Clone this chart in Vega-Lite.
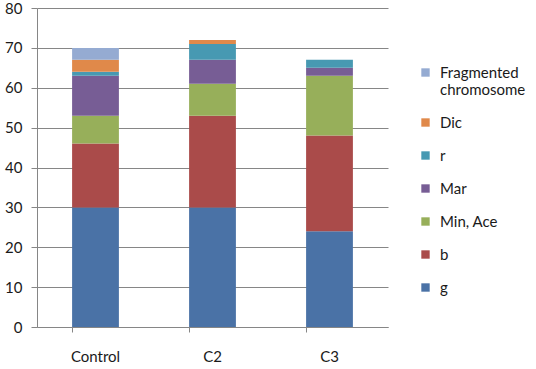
{
  "$schema": "https://vega.github.io/schema/vega-lite/v6.json",
  "width": 351,
  "height": 319,
  "autosize": "none",
  "padding": {"left": 37, "top": 8, "right": 148, "bottom": 42},
  "background": "white",
  "data": {"values": [
    {"group": "Control", "type": "g", "idx": 1, "value": 30},
    {"group": "Control", "type": "b", "idx": 2, "value": 16},
    {"group": "Control", "type": "Min, Ace", "idx": 3, "value": 7},
    {"group": "Control", "type": "Mar", "idx": 4, "value": 10},
    {"group": "Control", "type": "r", "idx": 5, "value": 1},
    {"group": "Control", "type": "Dic", "idx": 6, "value": 3},
    {"group": "Control", "type": "Fragmented chromosome", "idx": 7, "value": 3},
    {"group": "C2", "type": "g", "idx": 1, "value": 30},
    {"group": "C2", "type": "b", "idx": 2, "value": 23},
    {"group": "C2", "type": "Min, Ace", "idx": 3, "value": 8},
    {"group": "C2", "type": "Mar", "idx": 4, "value": 6},
    {"group": "C2", "type": "r", "idx": 5, "value": 4},
    {"group": "C2", "type": "Dic", "idx": 6, "value": 1},
    {"group": "C2", "type": "Fragmented chromosome", "idx": 7, "value": 0},
    {"group": "C3", "type": "g", "idx": 1, "value": 24},
    {"group": "C3", "type": "b", "idx": 2, "value": 24},
    {"group": "C3", "type": "Min, Ace", "idx": 3, "value": 15},
    {"group": "C3", "type": "Mar", "idx": 4, "value": 2},
    {"group": "C3", "type": "r", "idx": 5, "value": 2},
    {"group": "C3", "type": "Dic", "idx": 6, "value": 0},
    {"group": "C3", "type": "Fragmented chromosome", "idx": 7, "value": 0}
  ]},
  "config": {
    "view": {"stroke": null},
    "font": "Lato"
  },
  "mark": {"type": "bar"},
  "encoding": {
    "x": {
      "field": "group", "type": "nominal",
      "sort": ["Control", "C2", "C3"],
      "scale": {"paddingInner": 0.6, "paddingOuter": 0.3},
      "axis": {
        "title": null, "labelAngle": 0, "bandPosition": 0,
        "domainColor": "#868686", "tickColor": "#868686", "tickSize": 5,
        "labelFont": "Lato", "labelFontSize": 15, "labelColor": "#1a1a1a",
        "labelPadding": 17, "grid": false
      }
    },
    "y": {
      "field": "value", "type": "quantitative", "stack": "zero",
      "scale": {"domain": [0, 80], "nice": false},
      "axis": {
        "title": null, "values": [0, 10, 20, 30, 40, 50, 60, 70, 80],
        "domainColor": "#868686", "tickColor": "#868686", "tickSize": 6,
        "gridColor": "#868686", "grid": true,
        "labelFont": "Lato", "labelFontSize": 15, "labelColor": "#1a1a1a",
        "labelPadding": 9
      }
    },
    "order": {"field": "idx", "type": "quantitative", "sort": "ascending"},
    "color": {
      "field": "type", "type": "nominal",
      "scale": {
        "domain": ["Fragmented chromosome", "Dic", "r", "Mar", "Min, Ace", "b", "g"],
        "range": ["#95ABD2", "#E0894A", "#4799B2", "#775D95", "#97AF5A", "#AA4B4A", "#4A72A6"]
      },
      "legend": {
        "title": null, "orient": "none", "legendX": 381, "legendY": 57,
        "symbolType": "square", "symbolSize": 70, "symbolStrokeWidth": 0,
        "labelFont": "Lato", "labelFontSize": 15, "labelColor": "#1a1a1a",
        "labelLimit": 200, "rowPadding": 17, "labelOffset": 7,
        "labelExpr": "datum.label == 'Fragmented chromosome' ? ['Fragmented', 'chromosome'] : datum.label"
      }
    }
  }
}
